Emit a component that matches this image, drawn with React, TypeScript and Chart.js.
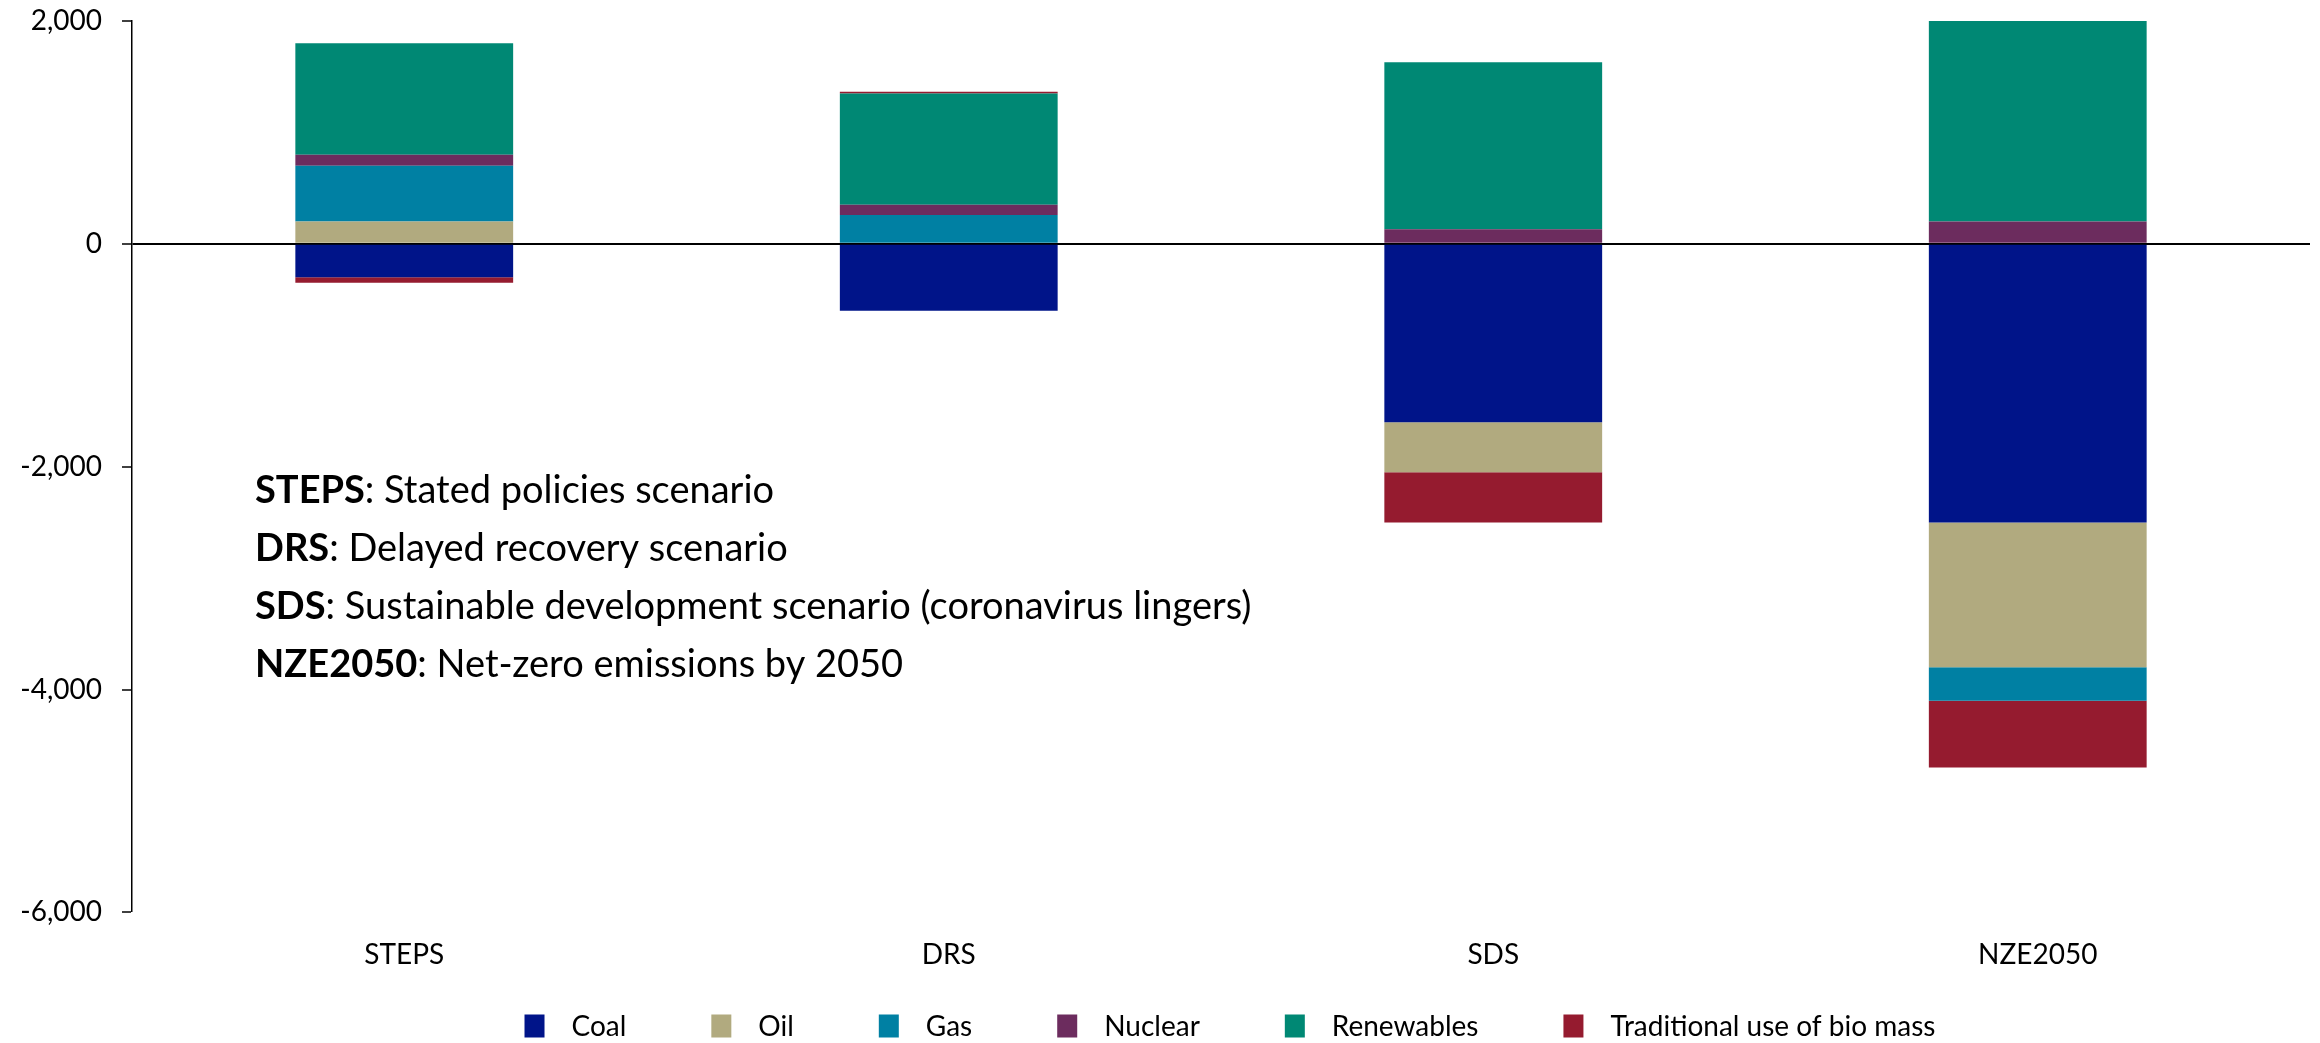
import React, { useEffect, useRef } from "react";
import { Chart, registerables } from "chart.js";

Chart.register(...registerables);

// Change in energy supply by scenario (PJ), stacked by source
const scenarios = ["STEPS", "DRS", "SDS", "NZE2050"];
const coal = [-300, -600, -1600, -2500];
const oil = [200, 0, -450, -1300];
const gas = [500, 260, 0, -300];
const nuclear = [100, 90, 130, 200];
const renewables = [1000, 1000, 1500, 1800];
const traditionalBiomass = [-50, 15, -450, -600];

const seriesLabels = ["Coal", "Oil", "Gas", "Nuclear", "Renewables", "Traditional use of bio mass"];
const seriesColors = ["#001489", "#B1AA7F", "#0080A3", "#6C2C5E", "#008874", "#951B2F"];

const yMin = -6000;
const yMax = 2000;
const yStep = 2000;

const scenarioNotes = [
  ["STEPS", ": Stated policies scenario"],
  ["DRS", ": Delayed recovery scenario"],
  ["SDS", ": Sustainable development scenario (coronavirus lingers)"],
  ["NZE2050", ": Net-zero emissions by 2050"],
];

const FONT = 'Lato, "Open Sans", "DejaVu Sans", sans-serif';

// Scenario definitions written inside the plot
const notesPlugin = {
  id: "scenarioNotes",
  afterDatasetsDraw(chart: any) {
    const { ctx, chartArea } = chart;
    ctx.save();
    ctx.fillStyle = "#000";
    ctx.textBaseline = "alphabetic";
    ctx.textAlign = "left";
    const x = chartArea.left + 123;
    let y = chartArea.top + 482;
    for (const [abbr, desc] of scenarioNotes) {
      ctx.font = `bold 38px ${FONT}`;
      ctx.fillText(abbr, x, y);
      const w = ctx.measureText(abbr).width;
      ctx.font = `38px ${FONT}`;
      ctx.fillText(desc, x + w, y);
      y += 58;
    }
    ctx.restore();
  },
};

// Legend row along the bottom, built from the datasets
const bottomLegendPlugin = {
  id: "bottomLegend",
  afterDraw(chart: any) {
    const { ctx, chartArea } = chart;
    const datasets = chart.data.datasets;
    const boxW = 20;
    const boxH = 23;
    const textGap = 27;
    const itemGap = 85;
    ctx.save();
    ctx.font = `28px ${FONT}`;
    const widths = datasets.map((d: any) => boxW + textGap + ctx.measureText(d.label).width);
    const total = widths.reduce((a: number, b: number) => a + b, 0) + itemGap * (datasets.length - 1);
    const center = (chartArea.left + chartArea.right) / 2 + 9;
    let x = center - total / 2;
    const cy = chart.height - 17;
    datasets.forEach((d: any, i: number) => {
      ctx.fillStyle = d.backgroundColor;
      ctx.fillRect(x, cy - boxH / 2, boxW, boxH);
      ctx.fillStyle = "#000";
      ctx.textBaseline = "middle";
      ctx.textAlign = "left";
      ctx.fillText(d.label, x + boxW + textGap, cy + 1);
      x += widths[i] + itemGap;
    });
    ctx.restore();
  },
};

export default function App() {
  const canvasRef = useRef<HTMLCanvasElement | null>(null);

  useEffect(() => {
    document.body.style.margin = "0";
    const canvas = canvasRef.current;
    if (!canvas) return;
    const values = [coal, oil, gas, nuclear, renewables, traditionalBiomass];
    const chart = new Chart(canvas, {
      type: "bar",
      data: {
        labels: scenarios,
        datasets: seriesLabels.map((label, i) => ({
          label,
          data: values[i],
          backgroundColor: seriesColors[i],
          borderWidth: 0,
          categoryPercentage: 1,
          barPercentage: 0.4,
        })),
      },
      options: {
        responsive: false,
        animation: false,
        devicePixelRatio: 1,
        layout: { padding: { top: 21, right: 10, bottom: 45, left: 0 } },
        plugins: {
          legend: { display: false },
          tooltip: { enabled: false },
          title: { display: false },
        },
        scales: {
          x: {
            stacked: true,
            grid: { display: false, drawTicks: false },
            border: { display: false },
            ticks: {
              color: "#000",
              padding: 26,
              font: { family: FONT, size: 28 },
            },
          },
          y: {
            stacked: true,
            min: yMin,
            max: yMax,
            afterFit: (scale: any) => {
              scale.width = 132;
              scale.paddingTop = 0;
              scale.paddingBottom = 0;
            },
            border: { display: true, color: "#000", width: 1.5 },
            grid: {
              drawOnChartArea: true,
              drawTicks: true,
              tickLength: 10,
              tickColor: "#000",
              tickWidth: 1.5,
              color: (c: any) => (c.tick && c.tick.value === 0 ? "#000" : "rgba(0,0,0,0)"),
              lineWidth: (c: any) => (c.tick && c.tick.value === 0 ? 2 : 0),
            },
            ticks: {
              stepSize: yStep,
              color: "#000",
              padding: 20,
              font: { family: FONT, size: 28 },
              callback: (v: any) => Number(v).toLocaleString("en-US"),
            },
          },
        },
      },
      plugins: [notesPlugin, bottomLegendPlugin],
    });
    return () => chart.destroy();
  }, []);

  return (
    <div style={{ position: "fixed", left: 0, top: 0, width: 2320, height: 1043, background: "#fff" }}>
      <canvas ref={canvasRef} width={2320} height={1043} />
    </div>
  );
}
